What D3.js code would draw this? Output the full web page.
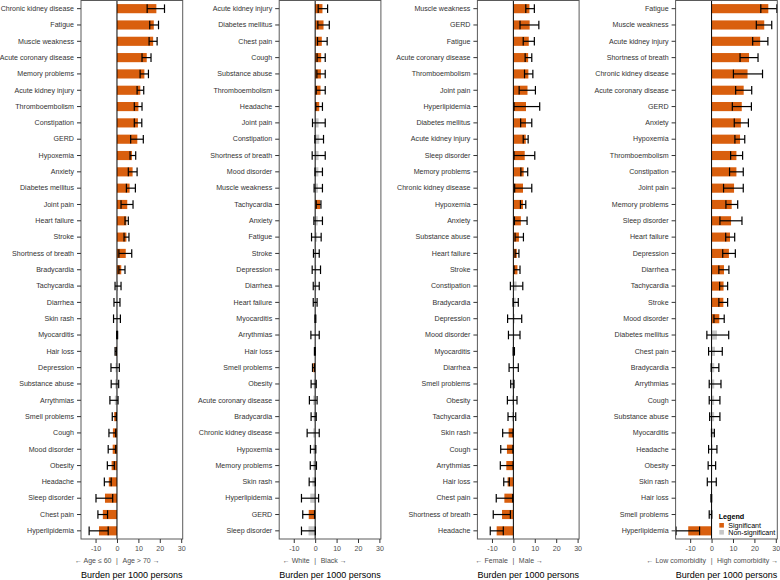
<!DOCTYPE html>
<html><head><meta charset="utf-8">
<script src="https://cdn.jsdelivr.net/npm/d3@7"></script>
<style>body{margin:0;background:#fff} svg{display:block} text{font-family:"Liberation Sans",Arial,Helvetica,sans-serif}</style>
</head><body><svg id="c" width="780" height="580"></svg>
<script>
// ---------- DATA ----------
const xTicks = [-10, 0, 10, 20, 30];
const axisTitle = "Burden per 1000 persons";

const ageCats = ["Chronic kidney disease","Fatigue","Muscle weakness","Acute coronary disease","Memory problems","Acute kidney injury","Thromboembolism","Constipation","GERD","Hypoxemia","Anxiety","Diabetes mellitus","Joint pain","Heart failure","Stroke","Shortness of breath","Bradycardia","Tachycardia","Diarrhea","Skin rash","Myocarditis","Hair loss","Depression","Substance abuse","Arrythmias","Smell problems","Cough","Mood disorder","Obesity","Headache","Sleep disorder","Chest pain","Hyperlipidemia"];
const ageVal = [18.4,17.2,16.9,13.9,12.8,10.9,10.0,9.8,9.5,7.0,7.3,5.9,4.8,4.4,4.4,4.1,2.0,0.4,0.1,0.2,0.1,-0.6,-0.7,-0.8,-1.0,-1.3,-1.9,-2.0,-2.5,-3.8,-5.6,-6.6,-8.4];
const ageLo  = [14.1,15.3,15.0,11.7,10.8,9.4,8.1,8.1,6.4,6.1,5.3,4.4,1.9,3.75,3.3,0.9,0.9,-0.9,-1.4,-1.6,-0.15,-0.9,-2.8,-2.7,-3.3,-2.2,-3.75,-4.1,-4.5,-5.9,-9.8,-8.9,-13.0];
const ageHi  = [22.2,19.4,18.75,15.9,14.7,12.5,11.7,11.6,12.3,8.75,9.4,8.6,7.5,5.3,5.6,6.9,3.75,1.9,1.4,1.6,0.3,-0.3,1.1,0.8,0.5,-0.3,-0.6,-0.6,-1.25,-2.7,-2.0,-4.4,-4.1];
const ageSides = ["← Age ≤ 60", "Age > 70 →"];

const raceCats = ["Acute kidney injury","Diabetes mellitus","Chest pain","Cough","Substance abuse","Thromboembolism","Headache","Joint pain","Constipation","Shortness of breath","Mood disorder","Muscle weakness","Tachycardia","Anxiety","Fatigue","Stroke","Depression","Diarrhea","Heart failure","Myocarditis","Arrythmias","Hair loss","Smell problems","Obesity","Acute coronary disease","Bradycardia","Chronic kidney disease","Hypoxemia","Memory problems","Skin rash","Hyperlipidemia","GERD","Sleep disorder"];
const raceVal = [3.4,3.9,3.1,2.8,2.7,2.5,1.9,1.6,1.9,1.6,1.5,1.3,2.3,1.2,0.9,0.5,0.5,0.5,0.0,0.1,-0.1,-0.2,-0.9,-0.7,-0.9,-0.7,-0.9,-0.9,-0.9,-1.3,-2.3,-3.0,-3.1];
const raceLo  = [1.4,1.25,1.1,0.9,0.8,0.5,0.3,-1.25,-0.15,-1.4,-0.1,-0.5,0.5,-0.6,-1.7,-0.8,-1.4,-0.9,-0.9,-0.1,-2.0,-0.35,-1.25,-1.9,-2.7,-1.9,-3.75,-2.2,-2.3,-2.8,-6.4,-5.8,-6.4];
const raceHi  = [5.8,6.6,5.6,4.7,4.7,4.7,3.4,4.7,3.9,4.7,3.4,3.4,2.7,3.4,2.8,1.9,2.5,1.9,0.9,0.3,1.9,0.05,-0.3,0.5,0.9,0.5,1.9,0.3,0.6,0.1,1.6,-0.3,0.1];
const raceSides = ["← White", "Black →"];

const sexCats = ["Muscle weakness","GERD","Fatigue","Acute coronary disease","Thromboembolism","Joint pain","Hyperlipidemia","Diabetes mellitus","Acute kidney injury","Sleep disorder","Memory problems","Chronic kidney disease","Hypoxemia","Anxiety","Substance abuse","Heart failure","Stroke","Constipation","Bradycardia","Depression","Mood disorder","Myocarditis","Diarrhea","Smell problems","Obesity","Tachycardia","Skin rash","Cough","Arrythmias","Hair loss","Chest pain","Shortness of breath","Headache"];
const sexVal = [7.5,7.6,7.2,6.9,7.0,6.6,5.9,5.9,5.8,5.3,4.8,4.5,4.5,3.5,2.6,1.6,1.9,1.5,1.1,0.6,0.4,0.2,0.2,-0.5,-0.5,-0.7,-2.2,-3.0,-3.3,-2.7,-4.2,-5.3,-7.8];
const sexLo  = [5.8,3.1,4.6,5.5,5.2,2.7,0.3,3.4,4.6,0.3,3.5,0.6,3.3,0.5,0.8,0.8,0.3,-1.4,-0.15,-2.7,-2.3,-0.1,-2.0,-1.25,-2.8,-2.5,-5.0,-5.9,-6.1,-4.5,-8.0,-9.4,-10.8];
const sexHi  = [9.8,11.9,9.8,8.6,9.1,10.3,12.3,8.6,6.9,10.0,6.7,8.6,5.8,6.4,4.7,2.6,3.1,4.4,2.3,3.9,3.1,0.5,2.3,0.3,1.7,1.1,-0.15,-0.2,-0.1,-1.9,-0.3,-1.4,-4.7];
const sexSides = ["← Female", "Male →"];

const comoCats = ["Fatigue","Muscle weakness","Acute kidney injury","Shortness of breath","Chronic kidney disease","Acute coronary disease","GERD","Anxiety","Hypoxemia","Thromboembolism","Constipation","Joint pain","Memory problems","Sleep disorder","Heart failure","Depression","Diarrhea","Tachycardia","Stroke","Mood disorder","Diabetes mellitus","Chest pain","Bradycardia","Arrythmias","Cough","Substance abuse","Myocarditis","Headache","Obesity","Skin rash","Hair loss","Smell problems","Hyperlipidemia"];
const comoVal = [26.5,24.6,22.7,17.5,16.8,15.0,14.1,13.7,13.3,11.6,11.6,10.5,9.4,9.1,8.6,8.1,5.8,5.6,5.5,3.6,2.5,1.6,1.25,1.25,1.2,1.2,0.9,0.5,0.3,0.1,-0.15,-0.5,-10.9];
const comoLo  = [23.0,20.9,19.2,13.3,10.2,11.25,9.7,10.6,10.9,8.9,8.4,5.6,6.7,3.9,6.6,5.2,3.4,3.75,3.4,1.1,-2.2,-1.4,-0.2,-1.1,-1.1,-0.9,-0.05,-1.4,-1.6,-2.0,-0.3,-1.1,-16.6];
const comoHi  = [30.5,28.1,26.3,21.7,23.8,18.75,18.6,17.2,15.5,14.5,14.8,14.8,12.2,14.2,10.8,11.1,8.1,7.5,7.5,5.9,8.0,5.0,3.4,4.4,3.9,3.9,1.3,2.5,1.9,2.2,0.05,0.1,-5.6];
const comoSides = ["← Low comorbidity", "High comorbidity →"];

const legendTitle = "Legend";
const legendLabels = ["Significant", "Non-significant"];

// ---------- DRAW ----------
const panels = [
  {cats: ageCats, val: ageVal, lo: ageLo, hi: ageHi, sides: ageSides},
  {cats: raceCats, val: raceVal, lo: raceLo, hi: raceHi, sides: raceSides},
  {cats: sexCats, val: sexVal, lo: sexLo, hi: sexHi, sides: sexSides},
  {cats: comoCats, val: comoVal, lo: comoLo, hi: comoHi, sides: comoSides}
];
const svg = d3.select("#c");
const orange = "#d95f0e", grey = "#c6c6c6";
const frameCol = "#5a5a5a", textCol = "#4d4d4d";
const plotTop = 0.5, plotBottom = 539, panelW = 101.7, firstLeft = 81, panelStep = 198.2;
const xDomain = [-16.8, 30.7];
const fs = 7.1, sideFs = 7.0;

panels.forEach((p, i) => {
  const L = firstLeft + panelStep * i;
  const x = d3.scaleLinear().domain(xDomain).range([L, L + panelW]);
  const y = d3.scaleBand().domain(p.cats).range([plotTop, plotBottom]).paddingInner(0.44).paddingOuter(0.22);
  const rows = p.cats.map((c, j) => ({c, v: p.val[j], lo: p.lo[j], hi: p.hi[j]}));
  const sig = d => d.lo > 0 || d.hi < 0;
  const g = svg.append("g");
  const bw = y.bandwidth();

  g.selectAll("rect.bar").data(rows).join("rect").attr("class", "bar")
    .attr("x", d => x(Math.min(0, d.v)))
    .attr("width", d => Math.abs(x(d.v) - x(0)))
    .attr("y", d => y(d.c)).attr("height", bw)
    .attr("fill", d => sig(d) ? orange : grey);

  // zero line
  g.append("line").attr("x1", x(0)).attr("x2", x(0)).attr("y1", plotTop).attr("y2", plotBottom)
    .attr("stroke", "#000").attr("stroke-width", 1);

  // error bars
  const cap = bw * 0.47;
  const eb = g.selectAll("g.eb").data(rows).join("g").attr("class", "eb")
    .attr("stroke", "#000").attr("stroke-width", 1.2).attr("fill", "none");
  eb.append("line").attr("x1", d => x(d.lo)).attr("x2", d => x(d.hi))
    .attr("y1", d => y(d.c) + bw / 2).attr("y2", d => y(d.c) + bw / 2);
  eb.append("line").attr("x1", d => x(d.lo)).attr("x2", d => x(d.lo))
    .attr("y1", d => y(d.c) + bw / 2 - cap).attr("y2", d => y(d.c) + bw / 2 + cap);
  eb.append("line").attr("x1", d => x(d.hi)).attr("x2", d => x(d.hi))
    .attr("y1", d => y(d.c) + bw / 2 - cap).attr("y2", d => y(d.c) + bw / 2 + cap);

  // frame
  g.append("rect").attr("x", L).attr("y", plotTop).attr("width", panelW).attr("height", plotBottom - plotTop)
    .attr("fill", "none").attr("stroke", frameCol).attr("stroke-width", 1);

  // axes
  const ay = g.append("g").attr("transform", `translate(${L},0)`)
    .call(d3.axisLeft(y).tickSize(4).tickPadding(3));
  ay.select(".domain").remove();
  ay.selectAll(".tick line").attr("stroke", "#333");
  ay.selectAll("text").attr("font-size", fs).attr("fill", "#333").attr("font-family", null);

  const ax = g.append("g").attr("transform", `translate(0,${plotBottom})`)
    .call(d3.axisBottom(x).tickValues(xTicks).tickFormat(d => String(d)).tickSize(4).tickPadding(2.5));
  ax.select(".domain").remove();
  ax.selectAll(".tick line").attr("stroke", "#333");
  ax.selectAll("text").attr("font-size", fs).attr("fill", textCol).attr("font-family", null);

  // side labels
  const sy = 563;
  g.append("text").attr("x", x(0) - 5.5).attr("y", sy).attr("text-anchor", "end")
    .attr("font-size", sideFs).attr("fill", textCol).text(p.sides[0]);
  g.append("text").attr("x", x(0)).attr("y", sy).attr("text-anchor", "middle")
    .attr("font-size", sideFs).attr("fill", textCol).text("|");
  g.append("text").attr("x", x(0) + 5.5).attr("y", sy).attr("text-anchor", "start")
    .attr("font-size", sideFs).attr("fill", textCol).text(p.sides[1]);

  g.append("text").attr("x", L + panelW / 2).attr("y", 578.3).attr("text-anchor", "middle")
    .attr("font-size", 9).attr("fill", "#000").text(axisTitle);

  if (i === 3) {
    const lg = g.append("g");
    lg.append("text").attr("x", 718.7).attr("y", 518.7).attr("font-size", 7.2).attr("font-weight", "bold")
      .attr("fill", "#000").text(legendTitle);
    [orange, grey].forEach((col, k) => {
      const cy = 525.3 + k * 7;
      lg.append("rect").attr("x", 719.3).attr("y", cy - 2.3).attr("width", 4.6).attr("height", 4.6).attr("fill", col);
      lg.append("text").attr("x", 728.3).attr("y", cy + 2.5).attr("font-size", fs).attr("fill", "#000").text(legendLabels[k]);
    });
  }
});
</script></body></html>
